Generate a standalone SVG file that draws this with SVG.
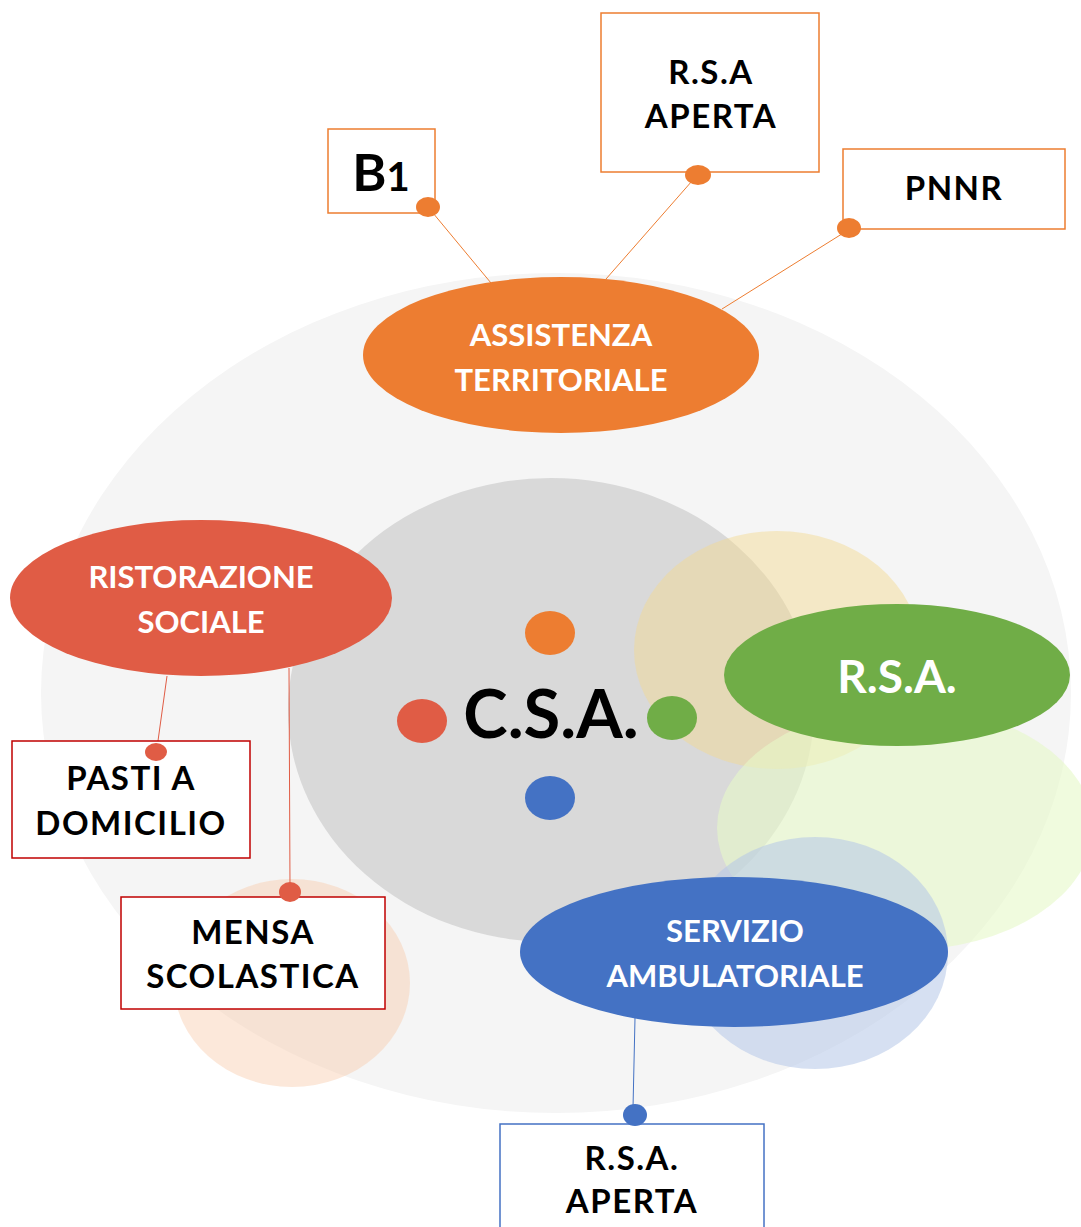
<svg xmlns="http://www.w3.org/2000/svg" width="1081" height="1227" viewBox="0 0 1081 1227">
<style>
.lbl{font-family:Lato,"Open Sans","Liberation Sans",sans-serif;font-weight:bold;text-anchor:middle}
.w{fill:#ffffff;font-size:31px}
.k{fill:#000000;font-size:33px;letter-spacing:1.5px}
.box{fill:#ffffff;stroke-width:1.5}
.o{fill:#ed7d31}.r{fill:#e05c45}.g{fill:#70ad47}.b{fill:#4472c4}
</style>
<rect width="1081" height="1227" fill="#ffffff"/>
<g id="background">
<ellipse cx="556" cy="693" rx="515" ry="420" fill="#f5f5f5"/>
<ellipse cx="551" cy="710" rx="263" ry="232" fill="#d9d9d9"/>
<ellipse cx="292" cy="983" rx="118" ry="104" fill="#f8cbad" opacity="0.45"/>
<ellipse cx="777" cy="650" rx="143" ry="119" fill="#f5d98f" opacity="0.45"/>
<ellipse cx="905" cy="828" rx="188" ry="122" fill="#e6f8c8" opacity="0.6"/>
<ellipse cx="815" cy="953" rx="133" ry="116" fill="#b4c7e7" opacity="0.55"/>
</g>
<g id="connectors" fill="none" stroke-width="1">
<line x1="428" y1="207" x2="491" y2="283" stroke="#ed7d31"/>
<line x1="692" y1="181" x2="606" y2="279" stroke="#ed7d31"/>
<line x1="845" y1="232" x2="722" y2="309" stroke="#ed7d31"/>
<line x1="167" y1="676" x2="157" y2="748" stroke="#e05c45"/>
<line x1="289" y1="668" x2="290" y2="888" stroke="#e05c45"/>
<line x1="635" y1="1018" x2="633" y2="1108" stroke="#4472c4"/>
</g>
<g id="csa">
<ellipse class="o" cx="550" cy="633" rx="25" ry="22"/>
<ellipse class="r" cx="422" cy="721" rx="25" ry="22"/>
<ellipse class="g" cx="672" cy="718" rx="25" ry="22"/>
<ellipse class="b" cx="550" cy="798" rx="25" ry="22"/>
<text class="lbl" x="551" y="738" font-size="67" fill="#000000">C.S.A.</text>
</g>
<g id="assistenza">
<ellipse class="o" cx="561" cy="355" rx="198" ry="78"/>
<text class="lbl w" x="561" y="346">ASSISTENZA</text>
<text class="lbl w" x="561" y="391">TERRITORIALE</text>
</g>
<g id="ristorazione">
<ellipse class="r" cx="201" cy="598" rx="191" ry="78"/>
<text class="lbl w" x="201" y="588">RISTORAZIONE</text>
<text class="lbl w" x="201" y="633">SOCIALE</text>
</g>
<g id="rsa">
<ellipse class="g" cx="897" cy="675" rx="173" ry="71"/>
<text class="lbl" x="897" y="693" font-size="46" fill="#ffffff">R.S.A.</text>
</g>
<g id="servizio">
<ellipse class="b" cx="734" cy="952" rx="214" ry="75"/>
<text class="lbl w" x="735" y="942">SERVIZIO</text>
<text class="lbl w" x="735" y="987">AMBULATORIALE</text>
</g>
<g id="b1">
<rect class="box" x="328" y="129" width="107" height="84" stroke="#ed7d31"/>
<text class="lbl" x="381" y="191" font-size="52" fill="#000000">B<tspan font-size="40">1</tspan></text>
<ellipse class="o" cx="428" cy="207" rx="12" ry="10"/>
</g>
<g id="rsa-aperta-top">
<rect class="box" x="601" y="13" width="218" height="159" stroke="#ed7d31"/>
<text class="lbl k" x="711" y="84">R.S.A</text>
<text class="lbl k" x="711" y="128">APERTA</text>
<ellipse class="o" cx="698" cy="175" rx="13" ry="10"/>
</g>
<g id="pnnr">
<rect class="box" x="843" y="149" width="222" height="80" stroke="#ed7d31"/>
<text class="lbl k" x="954" y="200">PNNR</text>
<ellipse class="o" cx="849" cy="228" rx="12" ry="10"/>
</g>
<g id="pasti">
<rect class="box" x="12" y="741" width="238" height="117" stroke="#c00000"/>
<text class="lbl k" x="131" y="790">PASTI A</text>
<text class="lbl k" x="131" y="835">DOMICILIO</text>
<ellipse class="r" cx="156" cy="752" rx="11" ry="9"/>
</g>
<g id="mensa">
<rect class="box" x="121" y="897" width="264" height="112" stroke="#c00000"/>
<text class="lbl k" x="253" y="944">MENSA</text>
<text class="lbl k" x="253" y="988">SCOLASTICA</text>
<ellipse class="r" cx="290" cy="892" rx="11" ry="10"/>
</g>
<g id="rsa-aperta-bottom">
<rect class="box" x="500" y="1124" width="264" height="120" stroke="#4472c4"/>
<text class="lbl k" x="632" y="1170">R.S.A.</text>
<text class="lbl k" x="632" y="1213">APERTA</text>
<ellipse class="b" cx="635" cy="1115" rx="12" ry="11"/>
</g>
</svg>
